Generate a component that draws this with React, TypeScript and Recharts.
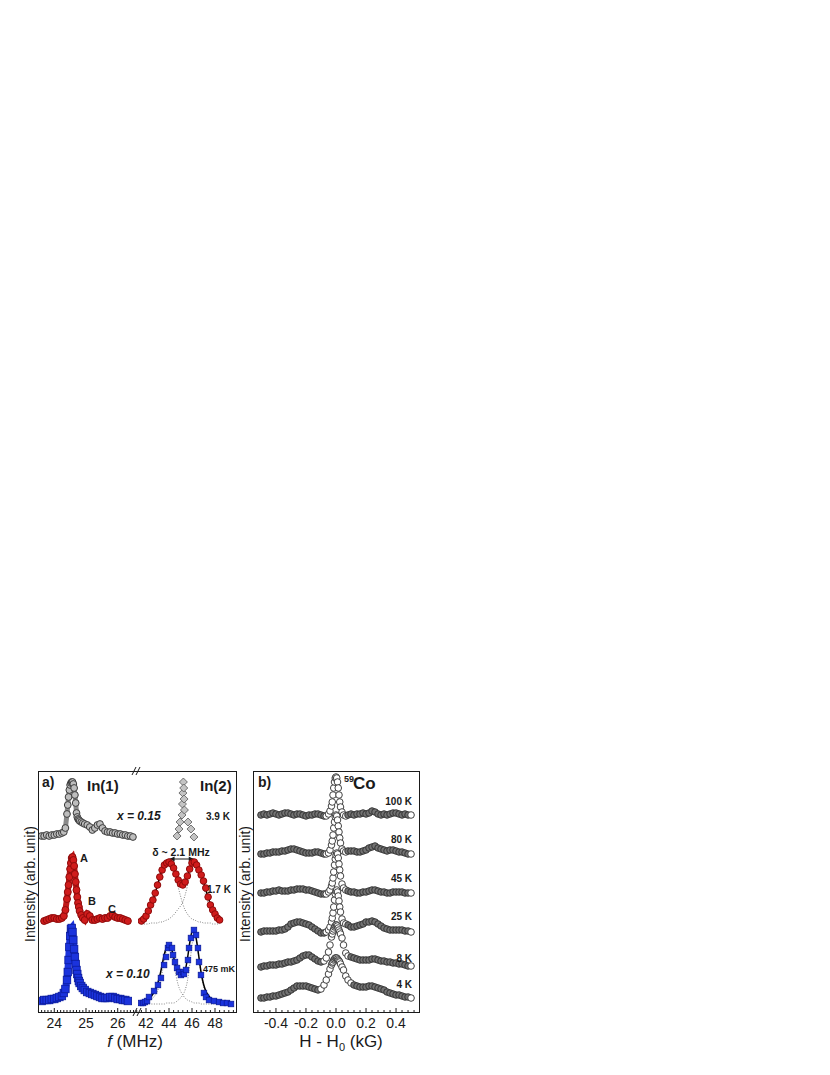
import React from 'react'
import { ComposedChart, Scatter, Line, XAxis, YAxis, ReferenceLine } from 'recharts'

const FONT = '"Liberation Sans", Arial, Helvetica, sans-serif'
const INK = '#1a1a1a'

// ---------- panel a, In(1) line: frequency (MHz) and heights above each baseline ----------
const in1Freq = [23.6, 23.68, 23.76, 23.84, 23.92, 24.0, 24.08, 24.16, 24.24, 24.3, 24.35, 24.4, 24.425, 24.45, 24.475, 24.5, 24.525, 24.55, 24.575, 24.6, 24.625, 24.65, 24.675, 24.7, 24.725, 24.75, 24.775, 24.8, 24.85, 24.9, 24.96, 25.04, 25.12, 25.2, 25.28, 25.36, 25.44, 25.52, 25.6, 25.68, 25.76, 25.84, 25.92, 26.0, 26.08, 26.16, 26.24, 26.32, 26.4, 26.48]
const in1Gray = [1, 1, 2, 1, 2, 2, 3, 3, 4, 5, 9, 23, 32, 40, 47, 52, 54, 55, 55, 53, 49, 42, 34, 24, 20, 18, 17, 16, 15, 14, 13, 12, 10, 7, 9, 12, 13, 9, 6, 5, 5, 4, 4, 3, 3, 2, 2, 1, 1, 0]
const in1Red = [null, 0, 1, 2, 3, 3, 2, 2, 3, 5, 11, 22, 29, 36, 44, 52, 58, 63, 64, 61, 55, 47, 39, 31, 24, 18, 14, 10, 6, 3, 1, 7, 5, 1, 1, 2, 3, 2, 3, 3, 5, 6, 4, 3, 3, 2, 1, 0, null, null]
const in1Blue = [1, 2, 2, 2, 3, 3, 4, 5, 6, 9, 13, 22, 30, 42, 55, 66, 73, 74, 70, 62, 53, 45, 38, 32, 28, 24, 21, 19, 16, 14, 12, 10, 9, 8, 7, 6, 5, 4, 4, 4, 5, 5, 4, 3, 3, 2, 2, 1, null, null]

// ---------- panel a, In(2) line ----------
const in2GrayFreq = [44.7, 44.87, 44.96, 45.13, 45.17, 45.21, 45.25, 45.28, 45.31, 45.34, 45.65, 45.91, 46.17]
const in2Gray = [2, 9, 16, 23, 34, 45, 56, 50, 39, 28, 16, 9, 1]

const in2Grid = [41.6, 41.8, 42.0, 42.2, 42.4, 42.6, 42.8, 43.0, 43.2, 43.4, 43.6, 43.8, 44.0, 44.2, 44.4, 44.6, 44.8, 45.0, 45.2, 45.4, 45.6, 45.8, 46.0, 46.2, 46.4, 46.6, 46.8, 47.0, 47.2, 47.4, 47.6, 47.8, 48.0, 48.2, 48.4]
const in2Red = [0, 2, 5, 10, 16, 21, 28, 36, 44, 51, 56, 58, 59, 57, 53, 47, 41, 37, 36, 39, 45, 52, 58, 59, 56, 51, 46, 40, 33, 24, 16, 11, 7, 3, 1]
const in2RedFit = [1, 2, 5, 9, 15, 21, 28, 36, 44, 51, 56, 58, 59, 57, 53, 47, 41, 37, 36, 38, 44, 52, 57, 59, 57, 52, 46, 39, 31, 24, 17, 12, 7, 4, 2]
const in2RedPeakLo = [2, 4, 6, 9, 13, 18, 25, 33, 41, 48, 53, 56, 57, 55, 50, 43, 34, 25, 17, 11, 7, 4, 2, 1, 0, -1, -1, -2, -2, -2, -2, -3, -3, -3, -3]
const in2RedPeakHi = [-3, -3, -3, -3, -2, -2, -2, -2, -1, -1, 0, 1, 2, 4, 6, 9, 12, 15, 19, 26, 35, 45, 53, 57, 55, 49, 41, 33, 25, 18, 13, 9, 6, 4, 2]

const in2FitGrid = [...in2Grid, 48.6, 48.8, 49.0, 49.2, 49.4]
const in2BlueFit = [0, 1, 2, 4, 6, 9, 13, 19, 27, 38, 49, 56, 59, 55, 46, 37, 30, 27, 27, 32, 44, 60, 71, 72, 62, 46, 30, 19, 12, 8, 5, 3, 2, 1, 0, 0, -1, -1, -1, -1]
const in2BluePeakLo = [0, 0, 1, 2, 3, 5, 8, 12, 19, 30, 43, 54, 58, 53, 41, 28, 18, 12, 8, 5, 3, 2, 1, 0, 0, 0, -1, -1, -1, -1, -1, -1, -1, -1, -1, -1, -1, -1, -1, -1]
const in2BluePeakHi = [-1, -1, -1, -1, -1, -1, -1, -1, -1, -1, -1, 0, 0, 0, 0, 1, 3, 5, 8, 13, 22, 38, 58, 71, 62, 44, 28, 17, 11, 7, 5, 3, 2, 1, 0, 0, -1, -1, -1, -1]

const in2BlueFreq = [41.57, 41.74, 41.91, 42.09, 42.26, 42.7, 43.04, 43.3, 43.57, 43.74, 43.91, 44.0, 44.26, 44.35, 44.52, 44.7, 44.87, 45.04, 45.22, 45.3, 45.48, 45.65, 45.74, 45.91, 46.17, 46.35, 46.52, 46.61, 46.78, 47.04, 47.22, 47.48, 47.91, 48.35, 48.7, 49.04, 49.39]
const in2Blue = [0, 0, 1, 2, 6, 12, 18, 25, 38, 46, 55, 58, 55, 48, 41, 35, 31, 28, 31, 29, 33, 43, 55, 65, 73, 68, 55, 41, 28, 10, 6, 3, 2, 1, 0, 0, -1]

// baselines of the stacked traces (same arb. units as the y axis)
const baseGray = 175
const baseGrayIn2 = 174
const baseRed = 91
const baseBlue = 10
const baseBlueIn2 = 9

// ---------- panel b, 59Co: field offset (kG) ----------
const coField = [-0.5, -0.48, -0.46, -0.44, -0.42, -0.4, -0.38, -0.36, -0.34, -0.32, -0.3, -0.28, -0.26, -0.24, -0.22, -0.2, -0.18, -0.16, -0.14, -0.12, -0.1, -0.08,
  -0.065, -0.05, -0.04, -0.03, -0.025, -0.02, -0.015, -0.01, -0.005, 0, 0.005, 0.01, 0.015, 0.02, 0.025, 0.03, 0.04, 0.05, 0.065,
  0.08, 0.1, 0.12, 0.14, 0.16, 0.18, 0.2, 0.22, 0.24, 0.26, 0.28, 0.3, 0.32, 0.34, 0.36, 0.38, 0.4, 0.42, 0.44, 0.46, 0.48, 0.5]
const co100 = [0, 1, 0, 1, 2, 1, 0, 1, 2, 2, 1, 0, 1, 1, 0, -1, 0, 0, 1, 1, 0, -1,
  -1, 1, 4, 9, 13, 20, 27, 33, 37, 38, 37, 33, 27, 20, 13, 8, 3, 0, -1,
  0, 1, 0, 1, 1, 2, 1, 2, 4, 3, 1, 0, 1, 0, 1, 2, 2, 1, 0, 1, 0, 0]
const co80 = [0, 0, 1, 1, 2, 2, 2, 3, 3, 4, 5, 5, 4, 3, 2, 1, 1, 1, 2, 2, 1, 0,
  0, 1, 4, 9, 13, 19, 26, 32, 37, 39, 38, 34, 28, 22, 16, 11, 5, 3, 2,
  3, 3, 3, 2, 2, 3, 4, 6, 7, 8, 6, 5, 4, 3, 4, 4, 3, 2, 2, 1, 0, 0]
const co45 = [0, 0, 1, 1, 2, 2, 3, 2, 2, 2, 3, 3, 4, 4, 4, 3, 3, 2, 1, 0, -1, -1,
  -1, 1, 3, 7, 10, 15, 21, 28, 34, 38, 40, 39, 35, 29, 23, 17, 9, 5, 3,
  2, 1, 1, 0, 0, 1, 1, 2, 3, 3, 2, 1, 1, 0, 0, 1, 1, 1, 1, 0, 0, 0]
const co25 = [0, 1, 1, 1, 1, 1, 2, 2, 3, 5, 8, 9, 10, 10, 9, 8, 7, 5, 3, 1, -1, -1,
  0, 2, 5, 10, 14, 19, 25, 32, 38, 41, 42, 40, 36, 31, 25, 20, 13, 9, 8,
  7, 5, 5, 6, 7, 8, 10, 10, 11, 10, 8, 6, 4, 3, 2, 2, 2, 2, 2, 1, 1, 0]
const co8 = [0, 1, 1, 2, 2, 2, 3, 3, 4, 5, 5, 6, 7, 9, 11, 12, 12, 10, 8, 6, 5, 6,
  9, 15, 22, 30, 33, 36, 38, 40, 41, 42, 42, 41, 39, 37, 35, 33, 29, 22, 14,
  11, 10, 9, 8, 7, 7, 7, 7, 8, 8, 7, 6, 6, 5, 5, 4, 4, 3, 3, 2, 1, 1]
const co4 = [0, 0, 1, 1, 2, 2, 3, 4, 5, 6, 8, 10, 12, 12, 12, 12, 11, 10, 9, 8, 9, 13,
  18, 24, 29, 33, 35, 36, 38, 39, 40, 40, 40, 39, 38, 37, 36, 34, 31, 28, 22,
  18, 15, 13, 12, 11, 11, 11, 12, 12, 11, 10, 9, 8, 6, 5, 4, 3, 3, 2, 1, 1, 0]
const coSeries = [co100, co80, co45, co25, co8, co4]
const coBases = [197, 158, 119, 80, 45, 14]
const coTemps = ['100 K', '80 K', '45 K', '25 K', '8 K', '4 K']
// half-width (kG) of the line core, where the sparse points show as open circles
const coCore = [0.066, 0.066, 0.066, 0.066, 0.081, 0.101]

// ---------- axes ----------
const in1Major = [24, 25, 26]
const in1Labels = ['24', '25', '26']
const in2Major = [42, 44, 46, 48]
const in2Labels = ['42', '44', '46', '48']
const coMajor = [-0.4, -0.2, 0, 0.2, 0.4]
const coLabels = ['-0.4', '-0.2', '0.0', '0.2', '0.4']

const steps = (a: number, b: number, d: number) => {
  const out: number[] = []
  for (let i = 0; a + i * d <= b + 1e-9; i++) out.push(Math.round((a + i * d) * 1000) / 1000)
  return out
}
const in1Ticks = steps(23.5, 26.6, 0.1)
const in2Ticks = steps(41.6, 49.6, 0.4)
const coTicks = steps(-0.52, 0.52, 0.04)

const toPts = (xs: number[], ys: (number | null)[], base: number) =>
  xs.flatMap((x, i) => (ys[i] == null ? [] : [{ x, y: base + (ys[i] as number) }]))

const axisTick = (major: number[], labels: string[]) => (props: any) => {
  const { x, y, payload } = props
  const k = major.findIndex((m) => Math.abs(m - payload.value) < 1e-6)
  return (
    <g>
      <line x1={x} x2={x} y1={y} y2={y - (k >= 0 ? 4 : 2)} stroke={INK} strokeWidth={1} />
      {k >= 0 && (
        <text x={x} y={y + 16} textAnchor="middle" fontSize={14} fontFamily={FONT} fill={INK}>
          {labels[k]}
        </text>
      )}
    </g>
  )
}

const circle = (r: number, fill: string, stroke: string) => (p: any) =>
  <circle cx={p.cx} cy={p.cy} r={r} fill={fill} stroke={stroke} strokeWidth={1} />
const square = (s: number, fill: string, stroke: string) => (p: any) =>
  <rect x={p.cx - s / 2} y={p.cy - s / 2} width={s} height={s} fill={fill} stroke={stroke} strokeWidth={0.8} />
const diamond = (s: number, fill: string, stroke: string) => (p: any) =>
  <polygon points={`${p.cx},${p.cy - s} ${p.cx + s},${p.cy} ${p.cx},${p.cy + s} ${p.cx - s},${p.cy}`} fill={fill} stroke={stroke} strokeWidth={0.8} />
const coDot = (core: number) => (p: any) => {
  const v = p.payload.x
  const open = Math.abs(v) <= core || v >= 0.499
  return <circle cx={p.cx} cy={p.cy} r={3.3} fill={open ? '#ffffff' : '#727272'} stroke="#2e2e2e" strokeWidth={0.9} />
}

const arrow = (p: any) => {
  const { x1, y1, x2, y2 } = p
  return (
    <g>
      <line x1={x1} y1={y1} x2={x2} y2={y2} stroke={INK} strokeWidth={1} />
      <polygon points={`${x1},${y1} ${x1 + 5},${y1 - 2.5} ${x1 + 5},${y1 + 2.5}`} fill={INK} />
      <polygon points={`${x2},${y2} ${x2 - 5},${y2 - 2.5} ${x2 - 5},${y2 + 2.5}`} fill={INK} />
    </g>
  )
}

const margin = { top: 10, right: 10, bottom: 29, left: 20 }
const marginR = { top: 10, right: 10, bottom: 29, left: 10 }
const Y_DOMAIN: [number, number] = [0, 241]
const dotted = { stroke: '#777', strokeWidth: 0.9, strokeDasharray: '1 1.5' }

export default function App() {
  const text = { fontFamily: FONT, fill: INK }
  return (
    <div style={{ position: 'absolute', left: 0, top: 0, width: 830, height: 1075, background: '#fff', fontFamily: FONT }}>
      {/* a) In(1) */}
      <div style={{ position: 'absolute', left: 18, top: 761 }}>
        <ComposedChart width={130} height={281} margin={margin}>
          <XAxis type="number" dataKey="x" domain={[23.486, 26.64]} allowDataOverflow ticks={in1Ticks} interval={0}
            tick={axisTick(in1Major, in1Labels)} tickLine={false} axisLine={false} tickSize={0} tickMargin={0} height={1} />
          <YAxis type="number" dataKey="y" domain={Y_DOMAIN} allowDataOverflow hide />
          <Line data={toPts(in1Freq, in1Gray, baseGray)} dataKey="y" type="linear" dot={false} activeDot={false} stroke="#8a8a8a" strokeWidth={5} isAnimationActive={false} />
          <Scatter data={toPts(in1Freq, in1Gray, baseGray)} shape={circle(3.4, '#bdbdbd', '#3c3c3c')} isAnimationActive={false} />
          <Line data={toPts(in1Freq, in1Red, baseRed)} dataKey="y" type="linear" dot={false} activeDot={false} stroke="#c01818" strokeWidth={6} isAnimationActive={false} />
          <Scatter data={toPts(in1Freq, in1Red, baseRed)} shape={circle(3.5, '#d01c1c', '#8e0b0b')} isAnimationActive={false} />
          <Line data={toPts(in1Freq, in1Blue, baseBlue)} dataKey="y" type="linear" dot={false} activeDot={false} stroke="#1b33dd" strokeWidth={7} isAnimationActive={false} />
          <Scatter data={toPts(in1Freq, in1Blue, baseBlue)} shape={square(7.5, '#1b33dd', '#0c1c9e')} isAnimationActive={false} />
        </ComposedChart>
      </div>

      {/* a) In(2) */}
      <div style={{ position: 'absolute', left: 128, top: 761 }}>
        <ComposedChart width={118} height={281} margin={marginR}>
          <XAxis type="number" dataKey="x" domain={[41.304, 49.826]} allowDataOverflow ticks={in2Ticks} interval={0}
            tick={axisTick(in2Major, in2Labels)} tickLine={false} axisLine={false} tickSize={0} tickMargin={0} height={1} />
          <YAxis type="number" dataKey="y" domain={Y_DOMAIN} allowDataOverflow hide />
          <Scatter data={toPts(in2GrayFreq, in2Gray, baseGrayIn2)} shape={diamond(4, '#c4c4c4', '#555')} isAnimationActive={false} />
          <Line data={toPts(in2Grid, in2RedPeakLo, baseRed)} dataKey="y" type="monotone" dot={false} activeDot={false} {...dotted} isAnimationActive={false} />
          <Line data={toPts(in2Grid, in2RedPeakHi, baseRed)} dataKey="y" type="monotone" dot={false} activeDot={false} {...dotted} isAnimationActive={false} />
          <Scatter data={toPts(in2Grid, in2Red, baseRed)} shape={circle(3.3, '#d01c1c', '#8e0b0b')} isAnimationActive={false} />
          <Line data={toPts(in2Grid, in2RedFit, baseRed)} dataKey="y" type="monotone" dot={false} activeDot={false} stroke="#000" strokeWidth={1.5} isAnimationActive={false} />
          <Line data={toPts(in2FitGrid, in2BluePeakLo, baseBlueIn2)} dataKey="y" type="monotone" dot={false} activeDot={false} {...dotted} isAnimationActive={false} />
          <Line data={toPts(in2FitGrid, in2BluePeakHi, baseBlueIn2)} dataKey="y" type="monotone" dot={false} activeDot={false} {...dotted} isAnimationActive={false} />
          <Scatter data={toPts(in2BlueFreq, in2Blue, baseBlueIn2)} shape={square(5.5, '#1b33dd', '#0c1c9e')} isAnimationActive={false} />
          <Line data={toPts(in2FitGrid, in2BlueFit, baseBlueIn2)} dataKey="y" type="monotone" dot={false} activeDot={false} stroke="#000" strokeWidth={1.5} isAnimationActive={false} />
          <ReferenceLine segment={[{ x: 44.05, y: 153 }, { x: 46.15, y: 153 }]} shape={arrow} ifOverflow="visible" />
        </ComposedChart>
      </div>

      {/* b) 59Co */}
      <div style={{ position: 'absolute', left: 233, top: 761 }}>
        <ComposedChart width={196} height={281} margin={margin}>
          <XAxis type="number" dataKey="x" domain={[-0.553, 0.553]} allowDataOverflow ticks={coTicks} interval={0}
            tick={axisTick(coMajor, coLabels)} tickLine={false} axisLine={false} tickSize={0} tickMargin={0} height={1} />
          <YAxis type="number" dataKey="y" domain={Y_DOMAIN} allowDataOverflow hide />
          {coSeries.map((s, i) => (
            <Scatter key={coTemps[i]} data={toPts(coField, s, coBases[i])} shape={coDot(coCore[i])} isAnimationActive={false} />
          ))}
        </ComposedChart>
      </div>

      {/* frames */}
      <div style={{ position: 'absolute', left: 38, top: 771, width: 199, height: 242, boxSizing: 'border-box', border: `1px solid ${INK}` }} />
      <div style={{ position: 'absolute', left: 253, top: 771, width: 167, height: 242, boxSizing: 'border-box', border: `1px solid ${INK}` }} />

      {/* annotations */}
      <svg width={830} height={1075} style={{ position: 'absolute', left: 0, top: 0, pointerEvents: 'none' }}>
        <g stroke={INK} strokeWidth={1}>
          <line x1={132} y1={775} x2={136} y2={767} />
          <line x1={136} y1={775} x2={140} y2={767} />
          <line x1={133} y1={1016} x2={137} y2={1008} />
          <line x1={137} y1={1016} x2={141} y2={1008} />
        </g>
        <text x={42} y={787} fontSize={14} fontWeight="bold" {...text}>a)</text>
        <text x={87} y={791} fontSize={15} fontWeight="bold" {...text}>In(1)</text>
        <text x={200} y={791} fontSize={15} fontWeight="bold" {...text}>In(2)</text>
        <text x={117} y={820} fontSize={12} fontWeight="bold" fontStyle="italic" {...text}>x = 0.15</text>
        <text x={206} y={820} fontSize={10} fontWeight="bold" {...text}>3.9 K</text>
        <text x={80} y={862} fontSize={11} fontWeight="bold" {...text}>A</text>
        <text x={88} y={905} fontSize={11} fontWeight="bold" {...text}>B</text>
        <text x={108} y={913} fontSize={11} fontWeight="bold" {...text}>C</text>
        <text x={181} y={856} fontSize={10.5} fontWeight="bold" textAnchor="middle" {...text}>δ ~ 2.1 MHz</text>
        <text x={207} y={893} fontSize={10} fontWeight="bold" {...text}>1.7 K</text>
        <text x={106} y={978} fontSize={12} fontWeight="bold" fontStyle="italic" {...text}>x = 0.10</text>
        <text x={203} y={972} fontSize={9} fontWeight="bold" {...text}>475 mK</text>

        <text x={258} y={787} fontSize={14} fontWeight="bold" {...text}>b)</text>
        <text x={344} y={782} fontSize={9} fontWeight="bold" {...text}>59</text>
        <text x={353} y={789} fontSize={17} fontWeight="bold" {...text}>Co</text>
        {coTemps.map((t, i) => (
          <text key={t} x={412} y={[805, 843, 882, 920, 962, 988][i]} fontSize={10} fontWeight="bold" textAnchor="end" {...text}>{t}</text>
        ))}

        <text transform="translate(35,884) rotate(-90)" fontSize={14} textAnchor="middle" {...text}>Intensity (arb. unit)</text>
        <text transform="translate(250,884) rotate(-90)" fontSize={14} textAnchor="middle" {...text}>Intensity (arb. unit)</text>
        <text x={135} y={1047} fontSize={17} textAnchor="middle" {...text}>
          <tspan fontStyle="italic">f</tspan> (MHz)
        </text>
        <text x={341} y={1047} fontSize={17} textAnchor="middle" {...text}>
          H - H<tspan fontSize={11} dy={4}>0</tspan><tspan dy={-4}> (kG)</tspan>
        </text>
      </svg>
    </div>
  )
}
